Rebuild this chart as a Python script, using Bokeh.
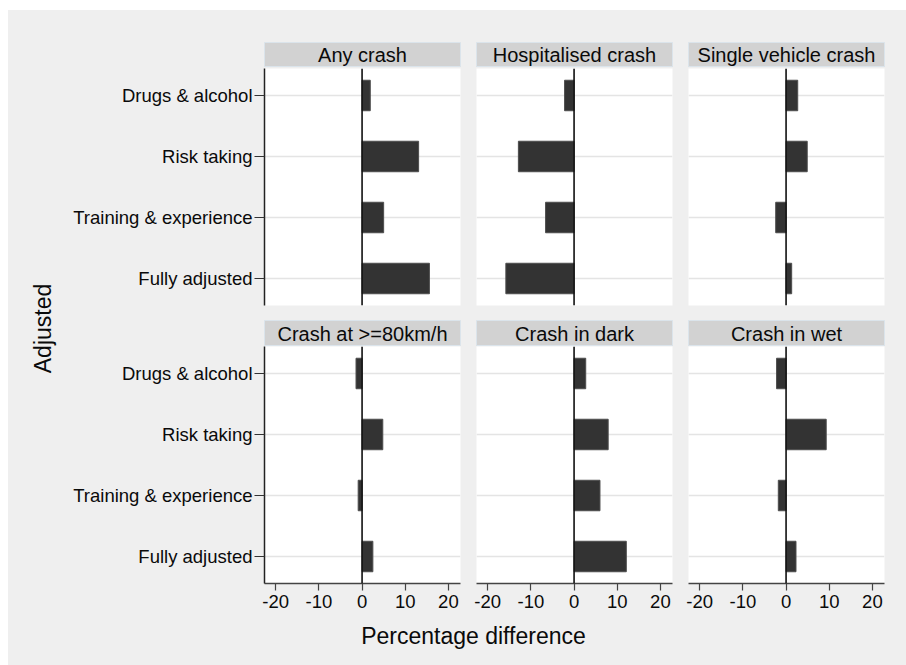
import math
from bokeh.plotting import figure
from bokeh.models import Range1d, FactorRange, FixedTicker, Span, Label, ColumnDataSource, Spacer
from bokeh.layouts import row, column
from bokeh.embed import file_html
from bokeh.resources import INLINE

# ---------------- data ----------------
categories = ["Drugs & alcohol", "Risk taking", "Training & experience", "Fully adjusted"]
panel_titles = ["Any crash", "Hospitalised crash", "Single vehicle crash",
                "Crash at >=80km/h", "Crash in dark", "Crash in wet"]
any_crash = [1.9, 13.1, 5.0, 15.6]
hospitalised_crash = [-2.2, -12.9, -6.6, -15.8]
single_vehicle_crash = [2.7, 4.9, -2.4, 1.3]
crash_80kmh = [-1.4, 4.8, -0.9, 2.5]
crash_dark = [2.7, 7.9, 6.0, 12.1]
crash_wet = [-2.2, 9.3, -1.8, 2.3]
x_ticks = [-20, -10, 0, 10, 20]
y_title = "Adjusted"
x_title = "Percentage difference"

series = [any_crash, hospitalised_crash, single_vehicle_crash,
          crash_80kmh, crash_dark, crash_wet]

# ---------------- style ----------------
BG = "#efefef"
FONT = "Liberation Sans"
FRAME_W = 196
FRAME_H = 237
TOTAL_H = 655


def borders(col):
    left_b = 202 if col == 0 else 8
    right_b = 22 if col == 2 else 8
    return left_b, right_b


def header(title, col, top):
    left_b, right_b = borders(col)
    top_b = 32 if top else 0
    fh = 25 if top else 26
    h = figure(width=left_b + FRAME_W + right_b, height=top_b + fh,
               x_range=Range1d(-1, 1), y_range=Range1d(-1, 1),
               x_axis_location=None, y_axis_location=None,
               tools="", toolbar_location=None, output_backend="svg",
               min_border_left=left_b, min_border_right=right_b,
               min_border_top=top_b, min_border_bottom=0)
    h.background_fill_color = "#d2d2d2"
    h.border_fill_color = BG
    h.outline_line_color = "#dbe4eb"
    h.outline_line_width = 1
    h.grid.visible = False
    h.add_layout(Label(x=0, y=0, text=title, text_align="center",
                       text_baseline="middle", text_font=FONT,
                       text_font_size="20px", text_color="#0a0a0a"))
    return h


def panel(values, col, bottom):
    left_b, right_b = borders(col)
    top_b = 0 if bottom else 1
    bot_b = 35 if bottom else 15
    p = figure(width=left_b + FRAME_W + right_b, height=top_b + FRAME_H + bot_b,
               x_range=Range1d(-22.6, 22.8),
               y_range=FactorRange(factors=categories[::-1], range_padding=-0.0575,
                                   range_padding_units="absolute"),
               x_axis_location="below" if bottom else None,
               y_axis_location="left" if col == 0 else None,
               tools="", toolbar_location=None, output_backend="svg",
               min_border_left=left_b, min_border_right=right_b,
               min_border_top=top_b, min_border_bottom=bot_b)
    p.background_fill_color = "white"
    p.border_fill_color = BG
    p.outline_line_color = None
    p.xgrid.visible = False
    p.ygrid.grid_line_color = "#e4e4e4"
    p.ygrid.grid_line_width = 1.5

    src = ColumnDataSource(dict(cat=categories, val=values))
    p.hbar(y="cat", left=0, right="val", height=0.5, source=src,
           fill_color="#333333", line_color="#4d4d4d", line_width=1)
    p.add_layout(Span(location=0, dimension="height", line_color="#111111",
                      line_width=1.6))

    if bottom:
        ax = p.xaxis[0]
        ax.ticker = FixedTicker(ticks=x_ticks)
        ax.major_label_overrides = {t: str(t) for t in x_ticks}
        ax.axis_line_color = "#444444"
        ax.axis_line_width = 1.4
        ax.major_tick_line_color = "#444444"
        ax.major_tick_line_width = 1.2
        ax.major_tick_in = 0
        ax.major_tick_out = 7
        ax.minor_tick_line_color = None
        ax.major_label_standoff = 4
        ax.major_label_text_font = FONT
        ax.major_label_text_font_size = "18.5px"
        ax.major_label_text_color = "#0a0a0a"
    if col == 0:
        ay = p.yaxis[0]
        ay.axis_line_color = "#222222"
        ay.axis_line_width = 1.5
        ay.major_tick_line_color = "#333333"
        ay.major_tick_line_width = 1.2
        ay.major_tick_in = 0
        ay.major_tick_out = 10
        ay.major_label_standoff = 2
        ay.major_label_text_font = FONT
        ay.major_label_text_font_size = "18.5px"
        ay.major_label_text_color = "#0a0a0a"
    return p


top_headers = [header(panel_titles[i], i, True) for i in range(3)]
top_panels = [panel(series[i], i, False) for i in range(3)]
bot_headers = [header(panel_titles[3 + i], i, False) for i in range(3)]
bot_panels = [panel(series[3 + i], i, True) for i in range(3)]

grid_w = sum(f.width for f in top_panels)
xlab_h = TOTAL_H - (57 + 253 + 26 + 272)

# Y title figure
adj = figure(width=54, height=TOTAL_H, x_range=Range1d(0, 54), y_range=Range1d(0, TOTAL_H),
             x_axis_location=None, y_axis_location=None, tools="",
             toolbar_location=None, output_backend="svg",
             min_border_left=0, min_border_right=0, min_border_top=0, min_border_bottom=0)
adj.background_fill_color = BG
adj.border_fill_color = BG
adj.outline_line_color = None
adj.grid.visible = False
adj.add_layout(Label(x=34.5, y=TOTAL_H - 318, text=y_title, angle=math.pi / 2,
                     text_align="center", text_baseline="middle",
                     text_font=FONT, text_font_size="23px", text_color="#0a0a0a"))

# X title figure
xlab = figure(width=grid_w, height=xlab_h, x_range=Range1d(0, grid_w), y_range=Range1d(0, xlab_h),
              x_axis_location=None, y_axis_location=None, tools="",
              toolbar_location=None, output_backend="svg",
              min_border_left=0, min_border_right=0, min_border_top=0, min_border_bottom=0)
xlab.background_fill_color = BG
xlab.border_fill_color = BG
xlab.outline_line_color = None
xlab.grid.visible = False
xlab.add_layout(Label(x=411, y=xlab_h - 17, text=x_title, text_align="center",
                      text_baseline="middle", text_font=FONT,
                      text_font_size="23px", text_color="#0a0a0a"))

grid = column(row(*top_headers), row(*top_panels), row(*bot_headers), row(*bot_panels), xlab,
              styles={"background-color": BG})
content = row(adj, grid, styles={"background-color": BG})
page = column(Spacer(width=10, height=10), row(Spacer(width=8, height=TOTAL_H), content))

open("out.html", "w").write(file_html(page, INLINE))
